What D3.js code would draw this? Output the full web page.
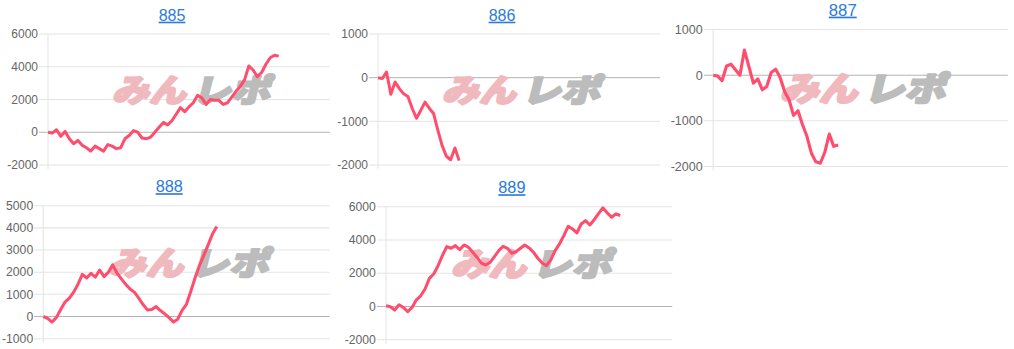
<!DOCTYPE html>
<html>
<head>
<meta charset="utf-8">
<script src="https://cdn.jsdelivr.net/npm/d3@7"></script>
<style>
  body { margin: 0; background: #fff; }
  svg { display: block; font-family: "Liberation Sans", Arial, sans-serif; }
</style>
</head>
<body>
<svg id="canvas" width="1014" height="349"></svg>
<script>
// chart titles (machine numbers)
const titles = ["885", "886", "887", "888", "889"];

// y tick labels per chart
const ticks885 = [-2000, 0, 2000, 4000, 6000];
const ticks886 = [-2000, -1000, 0, 1000];
const ticks887 = [-2000, -1000, 0, 1000];
const ticks888 = [-1000, 0, 1000, 2000, 3000, 4000, 5000];
const ticks889 = [-2000, 0, 2000, 4000, 6000];

// running balance per game
const values885 = [0, -50, 150, -250, 50, -400, -700, -500, -800, -950, -1150, -850, -1000, -1150,
  -750, -850, -1000, -950, -400, -200, 100, 0, -350, -400, -300, 0, 300, 600, 450, 700, 1100,
  1500, 1250, 1550, 1800, 2250, 2100, 1700, 2000, 1950, 1950, 1700, 1800, 2150, 2500, 2800,
  3200, 4050, 3800, 3400, 3650, 4150, 4550, 4700, 4650];
const values886 = [0, -20, 130, -380, -100, -250, -370, -430, -700, -930, -750, -560, -700,
  -820, -1200, -1550, -1800, -1880, -1610, -1900];
const values887 = [0, -20, -120, 200, 240, 120, 0, 550, 190, -175, -80, -320, -250, 60, 130,
  -50, -360, -540, -880, -780, -1080, -1340, -1710, -1900, -1930, -1690, -1290, -1560, -1530];
const values888 = [0, -80, -250, -50, 320, 650, 830, 1100, 1460, 1900, 1740, 1950, 1780, 2100,
  1800, 2000, 2330, 1950, 1700, 1450, 1240, 1100, 830, 540, 300, 320, 450, 270, 120, -50,
  -250, -120, 280, 550, 1130, 1750, 2300, 2760, 3230, 3720, 4060];
const values889 = [40, -20, -220, 100, -60, -320, -60, 400, 640, 1050, 1690, 1950, 2450, 3060,
  3600, 3500, 3660, 3420, 3700, 3560, 3260, 2950, 2610, 2490, 2650, 3000, 3360, 3620, 3500,
  3200, 3300, 3500, 3700, 3520, 3260, 2900, 2610, 2450, 2800, 3360, 3760, 4260, 4820, 4660,
  4420, 4960, 5160, 4900, 5220, 5580, 5930, 5630, 5370, 5570, 5470];

const allTicks = [ticks885, ticks886, ticks887, ticks888, ticks889];
const allValues = [values885, values886, values887, values888, values889];

// where each little chart sits (translate + scale of a base panel)
const placement = [
  { x: 0, y: 0, k: 1 },
  { x: 330, y: 0, k: 1 },
  { x: 663, y: -6, k: 1.045 },
  { x: -5.4, y: 171.2, k: 1.015 },
  { x: 337.3, y: 172.2, k: 1.015 }
];

// base panel geometry
const plotLeft = 48, plotRight = 330, plotTop = 34, plotBottom = 165;
const gameSlots = 66;

const canva = d3.select("#canvas");

titles.forEach((title, i) => {
  const ticks = allTicks[i];
  const values = allValues[i];
  const p = placement[i];

  const g = canva.append("g")
    .attr("transform", `translate(${p.x},${p.y}) scale(${p.k})`);

  const x = d3.scaleLinear().domain([0, gameSlots]).range([plotLeft, plotRight]);
  const y = d3.scaleLinear().domain(d3.extent(ticks)).range([plotBottom, plotTop]);

  // title link
  g.append("text")
    .attr("x", 172)
    .attr("y", 20.7)
    .attr("text-anchor", "middle")
    .attr("font-size", 16)
    .attr("fill", "#2b7bd9")
    .attr("text-decoration", "underline")
    .text(title);

  // gridlines + tick marks
  g.append("g")
    .selectAll("line")
    .data(ticks)
    .enter()
    .append("line")
    .attr("x1", plotLeft - 9)
    .attr("x2", plotRight)
    .attr("y1", d => y(d))
    .attr("y2", d => y(d))
    .attr("stroke", d => d === 0 ? "#b4b4b4" : "#e4e4e4")
    .attr("stroke-width", 1);

  // y axis line
  g.append("line")
    .attr("x1", plotLeft).attr("x2", plotLeft)
    .attr("y1", plotTop).attr("y2", plotBottom + 4)
    .attr("stroke", "#e4e4e4");

  // tick labels
  g.append("g")
    .selectAll("text")
    .data(ticks)
    .enter()
    .append("text")
    .attr("x", plotLeft - 10)
    .attr("y", d => y(d))
    .attr("dy", "0.35em")
    .attr("text-anchor", "end")
    .attr("font-size", 12)
    .attr("fill", "#666")
    .text(d => d);

  // watermark logo
  const wm = g.append("g")
    .attr("transform", "translate(108,102) skewX(-14)")
    .attr("font-family", "'Noto Sans CJK JP', sans-serif")
    .attr("font-weight", 900)
    .attr("font-size", 32)
    .attr("stroke-width", 2.2)
    .attr("stroke-linejoin", "round");
  wm.append("text")
    .attr("x", 4)
    .attr("textLength", 74)
    .attr("lengthAdjust", "spacingAndGlyphs")
    .attr("fill", "#efb9bd")
    .attr("stroke", "#efb9bd")
    .text("みん");
  wm.append("text")
    .attr("x", 84)
    .attr("textLength", 78)
    .attr("lengthAdjust", "spacingAndGlyphs")
    .attr("fill", "#bcbcbc")
    .attr("stroke", "#bcbcbc")
    .text("レポ");

  // data line
  const line = d3.line()
    .x((d, j) => x(j))
    .y(d => y(d));

  g.append("path")
    .datum(values)
    .attr("d", line)
    .attr("fill", "none")
    .attr("stroke", "#ff4d6d")
    .attr("stroke-width", 3)
    .attr("stroke-linejoin", "round");
});
</script>
</body>
</html>
